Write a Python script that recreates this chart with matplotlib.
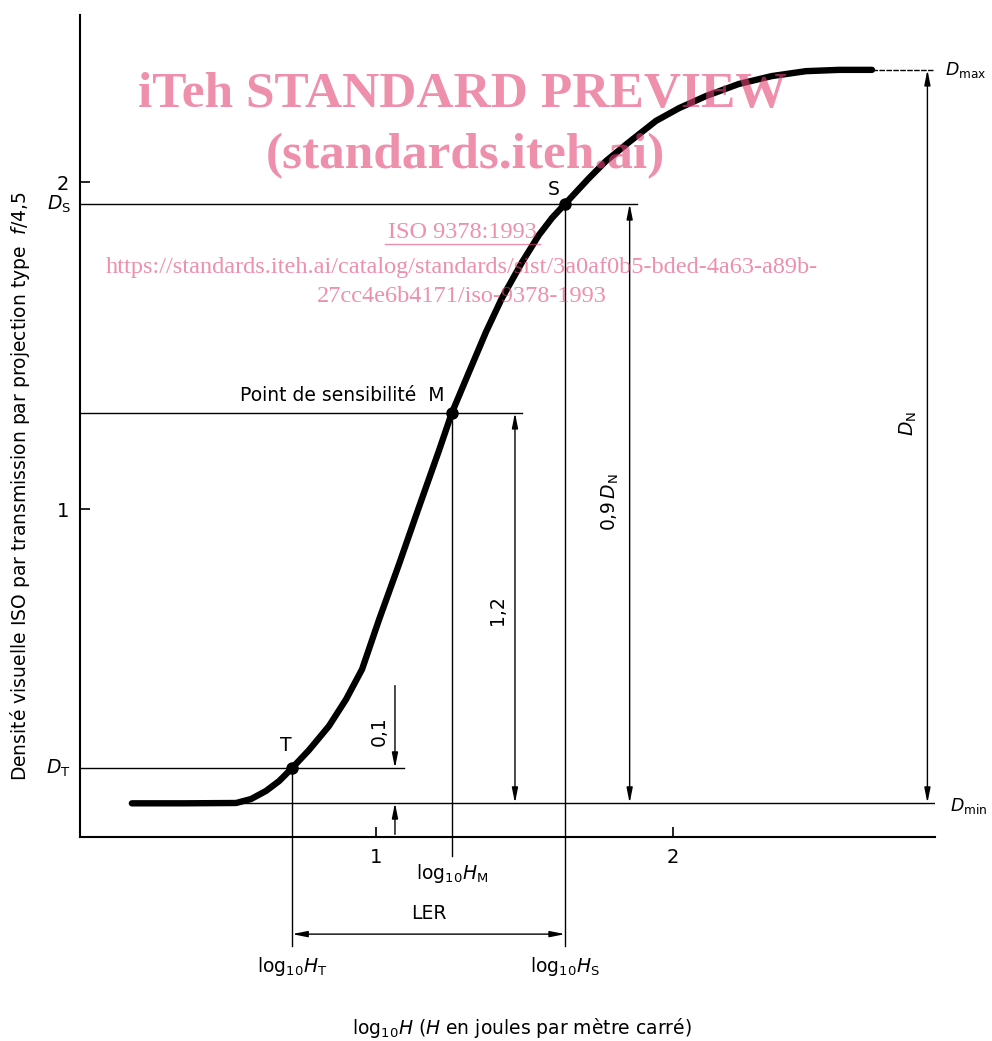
import numpy as np
import matplotlib
matplotlib.use("Agg")
import matplotlib.pyplot as plt

# characteristic curve (log10 H, density)
curve_x = [0.175, 0.351, 0.527, 0.577, 0.628, 0.672, 0.716, 0.773, 0.840, 0.898,
           0.952, 1.009, 1.077, 1.144, 1.212, 1.255, 1.313, 1.370, 1.424, 1.492,
           1.549, 1.593, 1.637, 1.718, 1.775, 1.853, 1.944, 2.022, 2.113, 2.224,
           2.335, 2.450, 2.562, 2.673]
curve_y = [0.100, 0.100, 0.101, 0.113, 0.138, 0.168, 0.208, 0.263, 0.336, 0.418,
           0.510, 0.661, 0.832, 1.006, 1.180, 1.294, 1.419, 1.541, 1.645, 1.755,
           1.838, 1.890, 1.933, 2.012, 2.064, 2.122, 2.187, 2.226, 2.263, 2.300,
           2.324, 2.339, 2.343, 2.343]

point_names = ["T", "M", "S"]
point_x = [0.716, 1.255, 1.637]
point_y = [0.208, 1.294, 1.933]

d_min = 0.101
d_max = 2.343
x_ticks = [1, 2]
y_ticks = [1, 2]

pink = (228 / 255, 68 / 255, 118 / 255)

plt.rcParams['font.family'] = ['DejaVu Sans']
plt.rcParams['mathtext.fontset'] = 'dejavusans'

fig = plt.figure(figsize=(9.92, 10.41), dpi=100)
ax = fig.add_axes([80 / 992, (1041 - 837) / 1041, 855 / 992, 822 / 1041])
ax.set_xlim(0, 855 / 296.3)
ax.set_ylim(-0.003, 822 / 327 - 0.003)
for s in ["top", "right"]:
    ax.spines[s].set_visible(False)
for s in ["left", "bottom"]:
    ax.spines[s].set_linewidth(1.5)
ax.set_xticks(x_ticks)
ax.set_yticks(y_ticks)
ax.tick_params(direction="in", length=7, width=1.2, labelsize=14, pad=8)

fs = 13.5
lw = 1.0

# curve
ax.plot(curve_x, curve_y, color="k", lw=4.6, solid_capstyle="round",
        solid_joinstyle="round", zorder=5)
ax.plot(point_x, point_y, "o", color="k", ms=8, zorder=6)

# Dmax, Dmin reference lines
ax.plot([curve_x[-1], 2.88], [d_max, d_max], color="k", lw=lw, ls=(0, (4, 1)))
ax.plot([0.527, 2.905], [d_min, d_min], color="k", lw=lw)
ax.text(2.918, d_max, r"$D_{\rm max}$", fontsize=12.5, va="center", ha="left",
        clip_on=False)
ax.text(2.935, d_min - 0.01, r"$D_{\rm min}$", fontsize=12.5, va="center", ha="left",
        clip_on=False)

# horizontal lines through T, M, S
tx, mx, sx = point_x
ty, my, sy = point_y
ax.plot([0, 1.093], [ty, ty], color="k", lw=lw)
ax.plot([0, 1.492], [my, my], color="k", lw=lw)
ax.plot([0, 1.880], [sy, sy], color="k", lw=lw)
ax.text(-0.072, ty, r"$D_{\rm T}$", fontsize=fs, va="center", ha="center", clip_on=False)
ax.text(-0.072, sy, r"$D_{\rm S}$", fontsize=fs, va="center", ha="center", clip_on=False)

# vertical lines down from T, M, S
ax.plot([tx, tx], [ty, -0.336], color="k", lw=lw, clip_on=False)
ax.plot([mx, mx], [my, -0.06], color="k", lw=lw, clip_on=False)
ax.plot([sx, sx], [sy, -0.336], color="k", lw=lw, clip_on=False)

# point labels
ax.text(tx - 0.02, ty + 0.04, "T", fontsize=fs, ha="center", va="bottom")
ax.text(sx - 0.04, sy + 0.015, "S", fontsize=fs, ha="center", va="bottom")
ax.text(mx - 0.025, my + 0.025, "Point de sensibilité  M", fontsize=fs,
        ha="right", va="bottom")

arr = dict(arrowstyle="<|-|>,head_length=0.9,head_width=0.18", color="k",
           lw=lw, shrinkA=0, shrinkB=0)
one = dict(arrowstyle="-|>,head_length=0.9,head_width=0.18", color="k",
           lw=lw, shrinkA=0, shrinkB=0)

# D_N
ax.annotate("", xy=(2.86, d_max), xytext=(2.86, d_min), arrowprops=arr)
ax.text(2.795, 1.26, r"$D_{\rm N}$", fontsize=fs, rotation=90, ha="center", va="center")
# 0,9 D_N
ax.annotate("", xy=(1.855, sy), xytext=(1.855, d_min), arrowprops=arr)
ax.text(1.79, 1.02, r"0,9$\,D_{\rm N}$", fontsize=fs, rotation=90, ha="center",
        va="center")
# 1,2
ax.annotate("", xy=(1.468, my), xytext=(1.468, d_min), arrowprops=arr)
ax.text(1.41, 0.69, "1,2", fontsize=fs, rotation=90, ha="center", va="center")
# 0,1
ax.annotate("", xy=(1.063, ty), xytext=(1.063, 0.46), arrowprops=one)
ax.annotate("", xy=(1.063, d_min), xytext=(1.063, 0.005), arrowprops=one)
ax.text(1.01, 0.32, "0,1", fontsize=fs, rotation=90, ha="center", va="center")

# LER
ax.annotate("", xy=(sx, -0.30), xytext=(tx, -0.30), arrowprops=arr,
            annotation_clip=False)
ax.text((tx + sx) / 2, -0.265, "LER", fontsize=fs, ha="center", va="bottom",
        clip_on=False)

ax.text(tx, -0.40, r"log$_{10}$$H_{\rm T}$", fontsize=fs, ha="center", va="center",
        clip_on=False)
ax.text(mx, -0.115, r"log$_{10}$$H_{\rm M}$", fontsize=fs, ha="center", va="center",
        clip_on=False)
ax.text(sx, -0.40, r"log$_{10}$$H_{\rm S}$", fontsize=fs, ha="center", va="center",
        clip_on=False)

fig.text(522 / 992, 1 - 1028 / 1041,
         r"log$_{10}$$H$ ($H$ en joules par mètre carré)", fontsize=fs,
         ha="center", va="center")
fig.text(20 / 992, 1 - 486 / 1041,
         "Densité visuelle ISO par transmission par projection type  $f$/4,5",
         fontsize=fs, rotation=90, ha="center", va="center")

# watermark
wm = dict(color=pink, alpha=0.6, family="Liberation Serif", ha="center",
          va="center", zorder=10)
fig.text(462 / 992, 1 - 95 / 1041, "iTeh STANDARD PREVIEW", fontsize=37,
         weight="bold", **wm)
fig.text(465 / 992, 1 - 156 / 1041, "(standards.iteh.ai)", fontsize=37,
         weight="bold", **wm)
fig.text(462 / 992, 1 - 233 / 1041, "ISO 9378:1993", fontsize=17.5, **wm)
fig.text(462 / 992, 1 - 267 / 1041,
         "https://standards.iteh.ai/catalog/standards/sist/3a0af0b5-bded-4a63-a89b-",
         fontsize=17.5, **wm)
fig.text(462 / 992, 1 - 297 / 1041, "27cc4e6b4171/iso-9378-1993", fontsize=17.5, **wm)
fig.add_artist(plt.Line2D([385 / 992, 540 / 992], [1 - 244 / 1041, 1 - 244 / 1041],
                          color=pink, alpha=0.6, lw=1, zorder=10))

fig.savefig("out.png", dpi=100)
